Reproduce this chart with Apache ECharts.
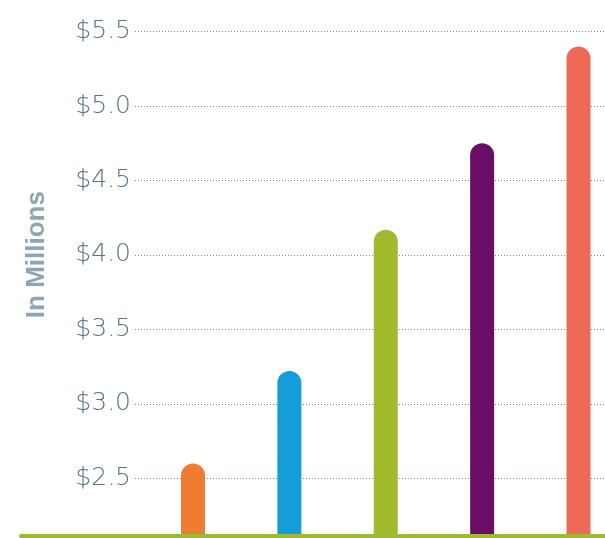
<!DOCTYPE html>
<html>
<head>
<meta charset="utf-8">
<script src="https://cdn.jsdelivr.net/npm/echarts@6/dist/echarts.min.js"></script>
<style>
html,body{margin:0;padding:0;background:#fff;}
#chart{width:605px;height:538px;}
</style>
</head>
<body>
<div id="chart"></div>
<script>
// Data
const categories = ['Period 1', 'Period 2', 'Period 3', 'Period 4', 'Period 5'];
const values = [2.6, 3.22, 4.17, 4.75, 5.4];
const barColors = ['#EE7D31', '#149DD9', '#A2BB2E', '#6A0D64', '#EC6955'];
const yTicks = { min: 2.0, max: 5.5, interval: 0.5 };
const axisTitle = 'In Millions';

const chart = echarts.init(document.getElementById('chart'), null, { renderer: 'canvas' });

const gridTop = 31.7, gridBottom = -14.7;

const option = {
  animation: false,
  backgroundColor: '#ffffff',
  grid: [
    { left: 21, right: 0, top: 30, bottom: 2, outerBoundsMode: 'none', containLabel: false },
    { left: 135, right: 0, top: gridTop, bottom: gridBottom, outerBoundsMode: 'none', containLabel: false },
    { left: 144.8, right: -21.7, top: gridTop, bottom: gridBottom, outerBoundsMode: 'none', containLabel: false }
  ],
  xAxis: [
    { gridIndex: 0, type: 'category', data: [''], z: 10,
      axisLine: { show: true, lineStyle: { color: '#9DBB2E', width: 4 } },
      axisTick: { show: false }, axisLabel: { show: false }, splitLine: { show: false } },
    { gridIndex: 1, type: 'category', data: [''], show: false },
    { gridIndex: 2, type: 'category', data: categories, show: false }
  ],
  yAxis: [
    { gridIndex: 0, type: 'value', show: false },
    { gridIndex: 1, type: 'value', min: yTicks.min, max: yTicks.max, interval: yTicks.interval,
      axisLine: { show: false }, axisTick: { show: false },
      axisLabel: { show: true, margin: 4, color: '#587585', fontSize: 25,
        fontFamily: 'DejaVu Sans', fontWeight: 200,
        verticalAlign: 'middle', padding: [0, 0, 13, 0],
        formatter: v => '$' + v.toFixed(1) },
      splitLine: { show: true, lineStyle: { color: '#6F8EA0', width: 1, type: [1, 2] } } },
    { gridIndex: 2, type: 'value', min: yTicks.min, max: yTicks.max, show: false,
      splitLine: { show: false } }
  ],
  graphic: [
    { type: 'text', x: 37, y: 254.6, rotation: Math.PI / 2,
      style: { text: axisTitle, fill: '#8FA5B2', font: 'bold 26px "Liberation Sans", Arial, sans-serif',
        align: 'center', verticalAlign: 'middle' } }
  ],
  series: [
    { type: 'bar', xAxisIndex: 2, yAxisIndex: 2, barWidth: 24,
      data: values.map((v, i) => ({ value: v, itemStyle: { color: barColors[i] } })),
      itemStyle: { borderRadius: [12, 12, 0, 0] } }
  ]
};
chart.setOption(option);
</script>
</body>
</html>
